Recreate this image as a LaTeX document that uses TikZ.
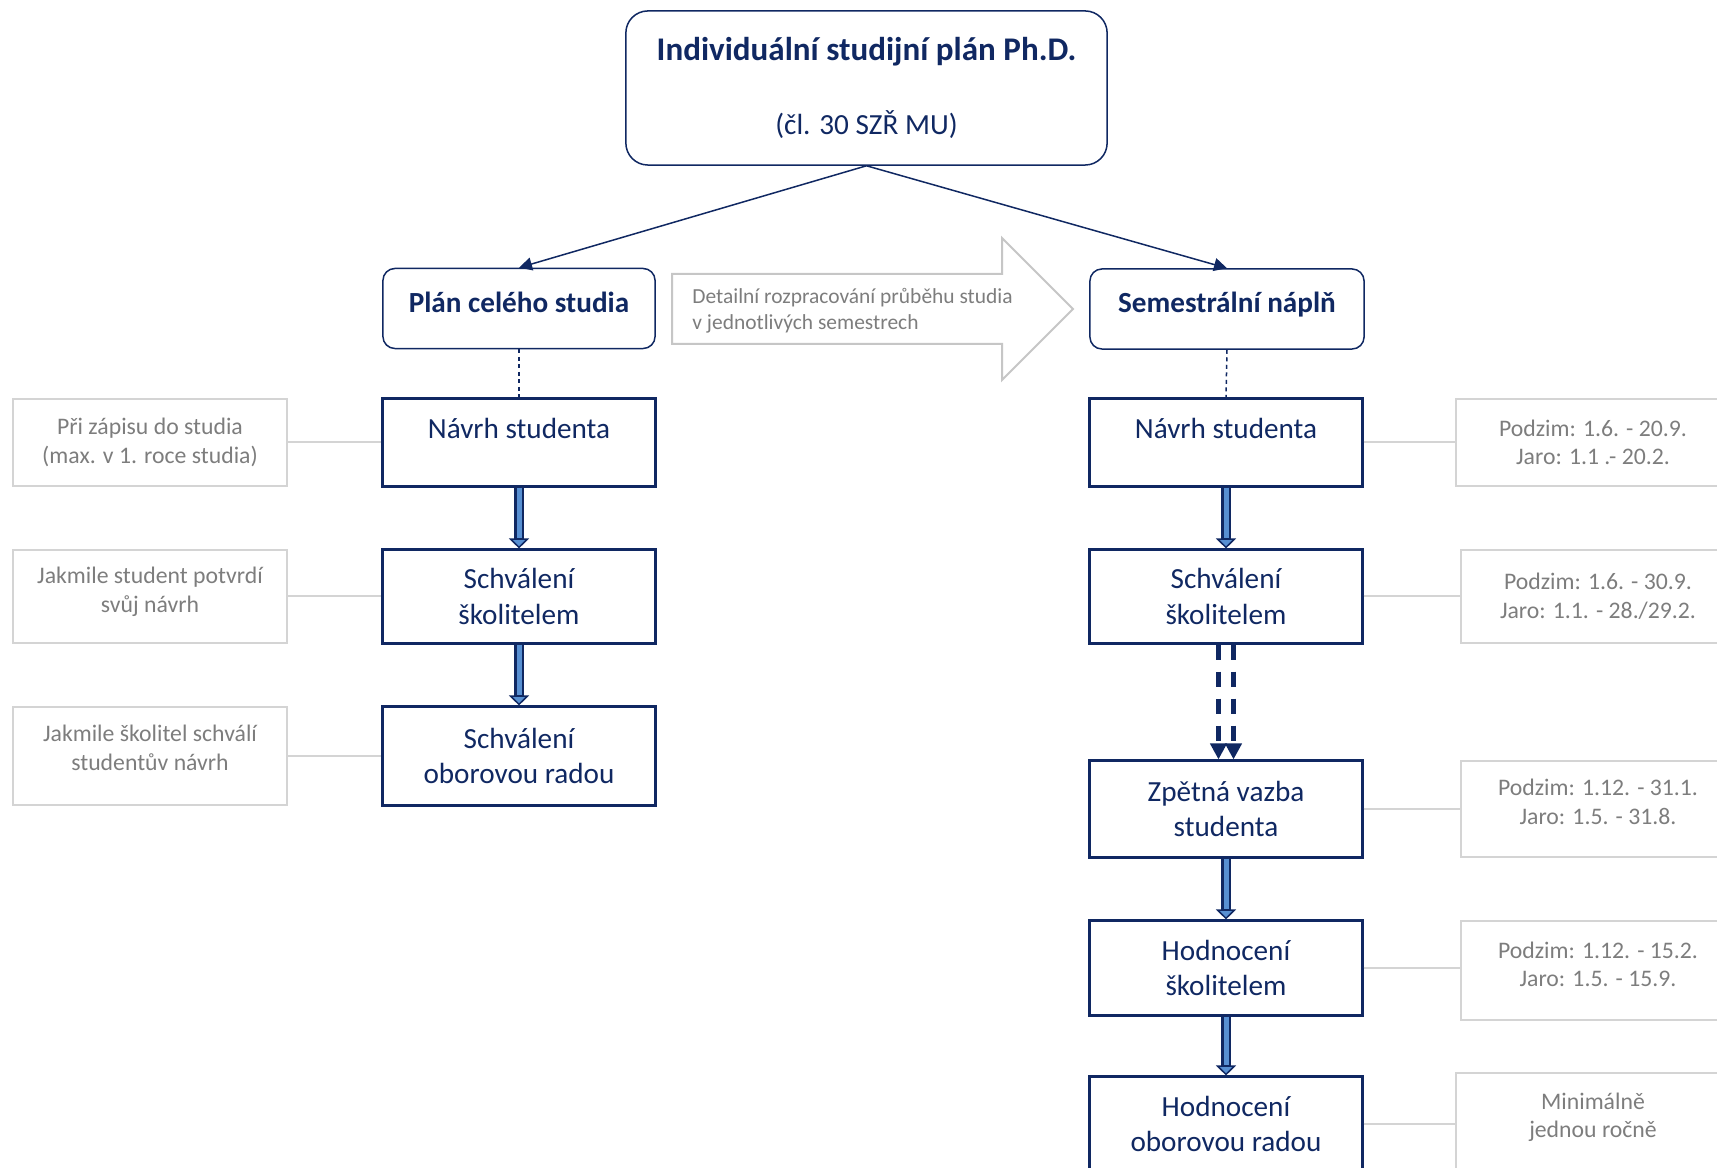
\documentclass[tikz,border=0pt]{standalone}
\usepackage{fontspec}
\setmainfont{Carlito}
\usetikzlibrary{arrows.meta}

\definecolor{plannavy}{RGB}{16,40,98}
\definecolor{notegray}{RGB}{212,212,212}
\definecolor{notetext}{RGB}{125,125,125}
\definecolor{arrowblue}{RGB}{88,144,210}
\definecolor{hollowgray}{RGB}{198,198,198}

\begin{document}
\begin{tikzpicture}[x=0.01cm, y=-0.01cm,
    headbox/.style={draw=plannavy, line width=0.015cm, rounded corners=0.22cm, text=plannavy, align=center, minimum width=4.81cm, minimum height=1.54cm, font=\fontsize{8.3}{10}\selectfont},
    phasebox/.style={draw=plannavy, line width=0.015cm, rounded corners=0.12cm, text=plannavy, minimum width=2.72cm, minimum height=0.8cm, font=\fontsize{8.3}{10}\selectfont\bfseries},
    stepbox/.style={draw=plannavy, line width=0.03cm, text=plannavy, align=center, minimum width=2.72cm, font=\fontsize{8.3}{10.2}\selectfont},
    notebox/.style={draw=notegray, line width=0.025cm, text=notetext, align=center, minimum width=2.74cm, font=\fontsize{6.75}{8.1}\selectfont},
    lift/.style={text depth=#1},
    tie/.style={draw=notegray, line width=0.02cm},
    drop/.style={draw=plannavy, line width=0.015cm, dash pattern=on 0.04cm off 0.035cm},
    split/.style={draw=plannavy, line width=0.015cm, -{Triangle[length=0.13cm, width=0.13cm]}},
    blockarrow/.style={draw=plannavy, line width=0.1cm, -{Triangle[length=0.1cm, width=0.2cm, fill=arrowblue, line width=0.015cm]}, postaction={draw=arrowblue, line width=0.05cm, -, shorten >=0.1cm}},
    feedback/.style={draw=plannavy, line width=0.045cm, dash pattern=on 0.15cm off 0.12cm, -{Triangle[length=0.16cm, width=0.16cm]}}
]
\useasboundingbox (0,0) rectangle (1717,1168);

% Head
\node[headbox] (isp) at (866.5,88) {{\fontsize{9.4}{11}\selectfont\bfseries Individuální studijní plán Ph.D.}\\[11.2pt] (čl. 30 SZŘ MU)};

% Two plans
\node[phasebox, lift=0.13cm] (plan) at (519,308.5) {Plán celého studia};
\node[phasebox, lift=0.14cm, minimum width=2.74cm] (sem) at (1227,309) {Semestrální náplň};
\draw[split] (isp.south) -- (plan.north);
\draw[split] (isp.south) -- (sem.north);

% Hollow arrow between plans
\draw[draw=hollowgray, line width=0.02cm, fill=white] (672,274) -- (1002,274) -- (1002,238) -- (1073,309) -- (1002,380) -- (1002,344) -- (672,344) -- cycle;
\node[anchor=west, align=left, text=notetext, font=\fontsize{6.1}{7.4}\selectfont] (detail) at (680,311) {Detailní rozpracování průběhu studia\\v jednotlivých semestrech};

% Whole study steps
\node[stepbox, lift=0.29cm, minimum height=0.87cm] (navrhL) at (519,442.5) {Návrh studenta};
\node[stepbox, minimum height=0.93cm] (schvalL) at (519,596.5) {Schválení\\školitelem};
\node[stepbox, minimum height=0.98cm] (radaL) at (519,756) {Schválení\\oborovou radou};

% Semester steps
\node[stepbox, lift=0.29cm, minimum height=0.87cm] (navrhR) at (1226,442.5) {Návrh studenta};
\node[stepbox, minimum height=0.93cm] (schvalR) at (1226,596.5) {Schválení\\školitelem};
\node[stepbox, minimum height=0.96cm] (zpetnaR) at (1226,809) {Zpětná vazba\\studenta};
\node[stepbox, minimum height=0.94cm] (hodnR) at (1226,968) {Hodnocení\\školitelem};
\node[stepbox, minimum height=0.94cm] (radaR) at (1226,1124) {Hodnocení\\oborovou radou};

% Dates and conditions
\node[notebox, minimum height=0.87cm] (kdyL1) at (150,442.5) {Při zápisu do studia\\(max. v 1. roce studia)};
\node[notebox, lift=0.13cm, minimum height=0.93cm] (kdyL2) at (150,596.5) {Jakmile student potvrdí\\svůj návrh};
\node[notebox, lift=0.16cm, minimum height=0.98cm] (kdyL3) at (150,756) {Jakmile školitel schválí\\studentův návrh};
\node[notebox, minimum height=0.87cm] (kdyR1) at (1593,442.5) {Podzim: 1.6. - 20.9.\\Jaro: 1.1 .- 20.2.};
\node[notebox, minimum height=0.93cm] (kdyR2) at (1598,596.5) {Podzim: 1.6. - 30.9.\\Jaro: 1.1. - 28./29.2.};
\node[notebox, lift=0.14cm, minimum height=0.96cm] (kdyR3) at (1598,809) {Podzim: 1.12. - 31.1.\\Jaro: 1.5. - 31.8.};
\node[notebox, lift=0.12cm, minimum height=0.99cm] (kdyR4) at (1598,970.5) {Podzim: 1.12. - 15.2.\\Jaro: 1.5. - 15.9.};
\node[notebox, lift=0.17cm, minimum height=1.02cm] (kdyR5) at (1593,1124) {Minimálně\\jednou ročně};

% Connections
\draw[drop] (plan.south) -- (navrhL.north);
\draw[drop] (sem.south) -- (navrhR.north);
\foreach \a/\b in {navrhL/schvalL, schvalL/radaL, navrhR/schvalR, zpetnaR/hodnR, hodnR/radaR}
    \draw[blockarrow] (\a) -- (\b);
\draw[feedback] ([xshift=-0.075cm]schvalR.south) -- ([xshift=-0.075cm]zpetnaR.north);
\draw[feedback] ([xshift=0.075cm]schvalR.south) -- ([xshift=0.075cm]zpetnaR.north);
\foreach \a/\b in {kdyL1/navrhL, kdyL2/schvalL, kdyL3/radaL}
    \draw[tie] (\a.east) -- (\a.east -| \b.west);
\foreach \a/\b in {navrhR/kdyR1, schvalR/kdyR2, zpetnaR/kdyR3, hodnR/kdyR4, radaR/kdyR5}
    \draw[tie] (\a.east) -- (\a.east -| \b.west);

\end{tikzpicture}
\end{document}
